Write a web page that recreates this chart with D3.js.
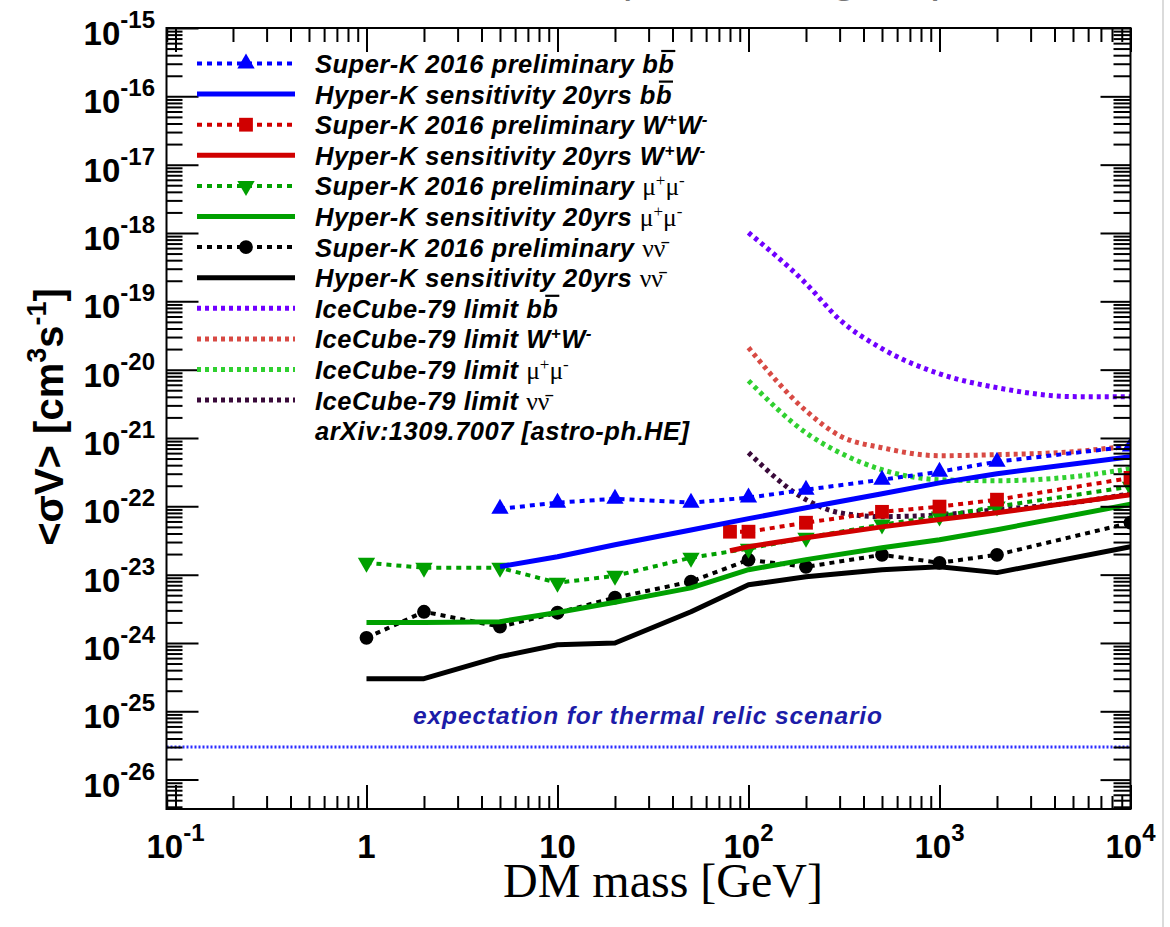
<!DOCTYPE html>
<html>
<head>
<meta charset="utf-8">
<script src="https://cdn.jsdelivr.net/npm/d3@7"></script>
<style>
  body { margin: 0; background: #fff; }
  svg { display: block; }
</style>
</head>
<body>
<svg id="chart" width="1170" height="927"></svg>
<script>
// ---- data (DM mass in GeV, <sigma v> in cm^3 s^-1) ----
var skBBMass = [5, 10, 20, 50, 100, 200, 500, 1000, 2000, 10000];
var skBB     = [9.2e-23, 1.13e-22, 1.29e-22, 1.13e-22, 1.34e-22, 1.75e-22, 2.45e-22, 3.2e-22, 4.5e-22, 7.5e-22];
var hkBBMass = [5, 10, 20, 50, 100, 200, 500, 1000, 2000, 10000];
var hkBB     = [1.31e-23, 1.83e-23, 2.74e-23, 4.5e-23, 6.6e-23, 9.5e-23, 1.53e-22, 2.2e-22, 3.0e-22, 5.3e-22];

var skWWMass = [80, 100, 200, 500, 1000, 2000, 10000];
var skWW     = [4.25e-23, 4.25e-23, 5.75e-23, 8.3e-23, 9.9e-23, 1.25e-22, 2.6e-22];
var hkWWMass = [80, 100, 200, 500, 1000, 2000, 10000];
var hkWW     = [2.24e-23, 2.56e-23, 3.47e-23, 5.0e-23, 6.4e-23, 8.05e-23, 1.48e-22];

var skMMMass = [1, 2, 5, 10, 20, 50, 100, 200, 500, 1000, 2000, 10000];
var skMM     = [1.49e-23, 1.26e-23, 1.26e-23, 7.6e-24, 9.6e-24, 1.77e-23, 2.4e-23, 3.47e-23, 5.4e-23, 7.1e-23, 9.9e-23, 1.94e-22];
var hkMMMass = [1, 2, 5, 10, 20, 50, 100, 200, 500, 1000, 2000, 10000];
var hkMM     = [2.0e-24, 2.0e-24, 2.05e-24, 2.8e-24, 3.95e-24, 6.4e-24, 1.18e-23, 1.66e-23, 2.48e-23, 3.24e-23, 4.55e-23, 1.07e-22];

var skNNMass = [1, 2, 5, 10, 20, 50, 100, 200, 500, 1000, 2000, 10000];
var skNN     = [1.19e-24, 2.86e-24, 1.73e-24, 2.77e-24, 4.6e-24, 7.9e-24, 1.65e-23, 1.3e-23, 1.95e-23, 1.49e-23, 1.95e-23, 5.75e-23];
var hkNNMass = [1, 2, 5, 10, 20, 50, 100, 200, 500, 1000, 2000, 10000];
var hkNN     = [3.0e-25, 3.0e-25, 6.3e-25, 9.4e-25, 1.0e-24, 2.86e-24, 7.1e-24, 9.3e-24, 1.18e-23, 1.3e-23, 1.07e-23, 2.56e-23];

// IceCube-79 limits (arXiv:1309.7007)
var icMass = [100, 200, 300, 500, 1000, 2000, 5000, 10000];
var icBB   = [1.01e-18, 1.82e-19, 5.4e-20, 2.03e-20, 8.7e-21, 5.45e-21, 4.03e-21, 4.0e-21];
var icWW   = [2.1e-20, 2.5e-21, 1.08e-21, 7.2e-22, 5.5e-22, 5.7e-22, 6.3e-22, 7.7e-22];
var icMM   = [6.9e-21, 1.19e-21, 6.1e-22, 3.43e-22, 2.45e-22, 2.37e-22, 2.71e-22, 3.55e-22];
var icNN   = [6.1e-22, 1.25e-22, 8.05e-23, 7.05e-23, 7.5e-23, 8.9e-23, 1.13e-22, 1.53e-22];

var thermalValue = 3e-26;

var xTickValues = [0.1, 1, 10, 100, 1000, 10000];
var xTickExp    = ["-1", "", "", "2", "3", "4"];
var xTickBase   = ["10", "1", "10", "10", "10", "10"];
var yTickExp    = [-15, -16, -17, -18, -19, -20, -21, -22, -23, -24, -25, -26];

var legendPrefix = ["Super-K 2016 preliminary ", "Hyper-K sensitivity 20yrs ",
                    "Super-K 2016 preliminary ", "Hyper-K sensitivity 20yrs ",
                    "Super-K 2016 preliminary ", "Hyper-K sensitivity 20yrs ",
                    "Super-K 2016 preliminary ", "Hyper-K sensitivity 20yrs ",
                    "IceCube-79 limit ", "IceCube-79 limit ", "IceCube-79 limit ", "IceCube-79 limit "];
var legendParticle = ["bb", "bb", "ww", "ww", "mm", "mm", "nn", "nn", "bb", "ww", "mm", "nn"];

// ---- layout ----
var plotLeft = 166.5, plotRight = 1130.5, plotTop = 28, plotBottom = 809;
var svg = d3.select("#chart");

var x = d3.scaleLog().domain([Math.pow(10, -1.047), 1e4]).range([plotLeft, plotRight]);
var y = d3.scaleLog().domain([Math.pow(10, -26.43), 1e-15]).range([plotBottom, plotTop]);

var sans = "'Liberation Sans', Arial, Helvetica, sans-serif";
var serif = "'Liberation Serif', 'Times New Roman', serif";

// series styles
var series = [
  { mass: icMass, vals: icBB, color: "#7000ff", width: 5, dash: "4,4", curve: true },
  { mass: icMass, vals: icWW, color: "#d84a44", width: 5, dash: "4,4", curve: true },
  { mass: icMass, vals: icMM, color: "#30d030", width: 5, dash: "4,4", curve: true },
  { mass: icMass, vals: icNN, color: "#3a0a3a", width: 5, dash: "4,4", curve: true },
  { mass: hkNNMass, vals: hkNN, color: "#000000", width: 5, dash: null },
  { mass: skNNMass, vals: skNN, color: "#000000", width: 4, dash: "5,5", marker: "circle" },
  { mass: hkMMMass, vals: hkMM, color: "#00a000", width: 5, dash: null },
  { mass: skMMMass, vals: skMM, color: "#00a000", width: 4, dash: "5,5", marker: "down" },
  { mass: hkWWMass, vals: hkWW, color: "#d00000", width: 5, dash: null },
  { mass: skWWMass, vals: skWW, color: "#d00000", width: 4, dash: "5,5", marker: "square" },
  { mass: hkBBMass, vals: hkBB, color: "#0000ff", width: 5, dash: null },
  { mass: skBBMass, vals: skBB, color: "#0000ff", width: 4, dash: "5,5", marker: "up" }
];

// legend order -> series index
var legendSeries = [11, 10, 9, 8, 7, 6, 5, 4, 0, 1, 2, 3];

function markerPath(kind) {
  if (kind === "up" || kind === "down") return d3.symbol(d3.symbolTriangle, 130)();
  if (kind === "square") return d3.symbol(d3.symbolSquare, 190)();
  return d3.symbol(d3.symbolCircle, 150)();
}

// ---- clip ----
svg.append("defs").append("clipPath").attr("id", "plotclip")
  .append("rect").attr("x", plotLeft).attr("y", plotTop)
  .attr("width", plotRight - plotLeft).attr("height", plotBottom - plotTop);

var plot = svg.append("g").attr("clip-path", "url(#plotclip)");

// thermal relic line
plot.append("line")
  .attr("x1", plotLeft).attr("x2", plotRight)
  .attr("y1", y(thermalValue)).attr("y2", y(thermalValue))
  .attr("stroke", "#2a2aff").attr("stroke-width", 3).attr("stroke-dasharray", "2,2");

series.forEach(function (s) {
  var pts = s.mass.map(function (m, i) { return [x(m), y(s.vals[i])]; });
  var line = d3.line().curve(s.curve ? d3.curveMonotoneX : d3.curveLinear);
  plot.append("path")
    .attr("d", line(pts))
    .attr("fill", "none")
    .attr("stroke", s.color)
    .attr("stroke-width", s.width)
    .attr("stroke-dasharray", s.dash)
    .attr("stroke-linejoin", "round");
  if (s.marker) {
    plot.selectAll(null).data(pts).join("path")
      .attr("d", markerPath(s.marker))
      .attr("transform", function (p) {
        return "translate(" + p[0] + "," + p[1] + ")" + (s.marker === "down" ? " rotate(180)" : "");
      })
      .attr("fill", s.color);
  }
});

// ---- axes (ROOT style: ticks on all four sides, pointing inward) ----
function logMinor(lo, hi) {
  var out = [];
  for (var e = Math.floor(Math.log10(lo)); e <= Math.ceil(Math.log10(hi)); e++) {
    for (var k = 2; k <= 9; k++) {
      var v = k * Math.pow(10, e);
      if (v > lo && v < hi) out.push(v);
    }
  }
  return out;
}
var yMajor = yTickExp.map(function (e) { return Math.pow(10, e); });
var yMinor = logMinor(y.domain()[0], y.domain()[1]);
var xMinor = logMinor(x.domain()[0], x.domain()[1]);

function tickGroup(axis, tx, ty) {
  var g = svg.append("g").attr("transform", "translate(" + tx + "," + ty + ")").call(axis);
  g.select(".domain").remove();
  g.selectAll("line").attr("stroke", "#000").attr("stroke-width", 2);
  g.selectAll("text").remove();
}
tickGroup(d3.axisLeft(y).tickValues(yMajor).tickSize(-32).tickFormat(""), plotLeft, 0);
tickGroup(d3.axisLeft(y).tickValues(yMinor).tickSize(-16).tickFormat(""), plotLeft, 0);
tickGroup(d3.axisRight(y).tickValues(yMajor).tickSize(-30).tickFormat(""), plotRight, 0);
tickGroup(d3.axisRight(y).tickValues(yMinor).tickSize(-17).tickFormat(""), plotRight, 0);
tickGroup(d3.axisBottom(x).tickValues(xTickValues).tickSize(-24).tickFormat(""), 0, plotBottom);
tickGroup(d3.axisBottom(x).tickValues(xMinor).tickSize(-13).tickFormat(""), 0, plotBottom);
tickGroup(d3.axisTop(x).tickValues(xTickValues).tickSize(-24).tickFormat(""), 0, plotTop);
tickGroup(d3.axisTop(x).tickValues(xMinor).tickSize(-14).tickFormat(""), 0, plotTop);

svg.append("rect")
  .attr("x", plotLeft).attr("y", plotTop)
  .attr("width", plotRight - plotLeft).attr("height", plotBottom - plotTop)
  .attr("fill", "none").attr("stroke", "#000").attr("stroke-width", 2);

// y tick labels
yTickExp.forEach(function (e) {
  var t = svg.append("text")
    .attr("x", 155).attr("y", y(Math.pow(10, e)) + 17)
    .attr("text-anchor", "end")
    .attr("font-family", sans).attr("font-weight", "bold").attr("font-size", 33);
  t.append("tspan").text("10");
  t.append("tspan").attr("dy", -17).attr("font-size", 24).text(String(e));
});

// x tick labels
xTickValues.forEach(function (v, i) {
  var t = svg.append("text")
    .attr("x", x(v)).attr("y", 858)
    .attr("text-anchor", "middle")
    .attr("font-family", sans).attr("font-weight", "bold").attr("font-size", 33);
  t.append("tspan").text(xTickBase[i]);
  if (xTickExp[i] !== "") t.append("tspan").attr("dy", -17).attr("font-size", 24).text(xTickExp[i]);
});

// axis titles
var yt = svg.append("text")
  .attr("transform", "translate(63,417) rotate(-90)")
  .attr("text-anchor", "middle")
  .attr("font-family", sans).attr("font-weight", "bold").attr("font-size", 40);
yt.append("tspan").text("<σV> [cm");
yt.append("tspan").attr("dy", -17).attr("font-size", 27).text("3");
yt.append("tspan").attr("dy", 17).text("s");
yt.append("tspan").attr("dy", -17).attr("font-size", 27).text("-1");
yt.append("tspan").attr("dy", 17).text("]");

svg.append("text")
  .attr("x", 663).attr("y", 897)
  .attr("text-anchor", "middle")
  .attr("font-family", serif).attr("font-size", 48)
  .text("DM mass [GeV]");

svg.append("text")
  .attr("x", 648).attr("y", 724)
  .attr("text-anchor", "middle")
  .attr("font-family", sans).attr("font-weight", "bold").attr("font-style", "italic")
  .attr("font-size", 24.5).attr("letter-spacing", 0.9).attr("fill", "#1c1ca8")
  .text("expectation for thermal relic scenario");

// ---- legend ----
function serifSpan(t, txt) {
  return t.append("tspan").attr("font-family", serif).attr("font-weight", "normal")
    .attr("font-style", "normal").attr("letter-spacing", 0).text(txt);
}
function addParticle(t, key) {
  if (key === "bb") {
    t.append("tspan").text("bb");
  } else if (key === "ww") {
    t.append("tspan").text("W");
    t.append("tspan").attr("dy", -9).attr("font-size", 17).text("+");
    t.append("tspan").attr("dy", 9).text("W");
    t.append("tspan").attr("dy", -9).attr("font-size", 17).text("-");
  } else if (key === "mm") {
    serifSpan(t, "μ");
    serifSpan(t, "+").attr("dy", -9).attr("font-size", 17);
    serifSpan(t, "μ").attr("dy", 9);
    serifSpan(t, "-").attr("dy", -9).attr("font-size", 17);
  } else {
    serifSpan(t, "νν̄");
  }
}

var legX1 = 197, legX2 = 295, legTextX = 315, legY0 = 63.5, legDy = 30.6;
legendSeries.forEach(function (si, i) {
  var s = series[si];
  var yy = legY0 + i * legDy;
  svg.append("line")
    .attr("x1", legX1).attr("x2", legX2).attr("y1", yy).attr("y2", yy)
    .attr("stroke", s.color).attr("stroke-width", s.width)
    .attr("stroke-dasharray", s.dash);
  if (s.marker) {
    svg.append("path").attr("d", markerPath(s.marker))
      .attr("transform", "translate(246," + yy + ")" + (s.marker === "down" ? " rotate(180)" : ""))
      .attr("fill", s.color);
  }
  var t = svg.append("text")
    .attr("x", legTextX).attr("y", yy + 9.5)
    .attr("font-family", sans).attr("font-weight", "bold").attr("font-style", "italic")
    .attr("font-size", 25.5).attr("letter-spacing", 0.5).attr("fill", "#000");
  t.append("tspan").text(legendPrefix[i]);
  addParticle(t, legendParticle[i]);
  if (legendParticle[i] === "bb") {
    // bar over the anti-b
    var node = t.node();
    var n = node.getNumberOfChars();
    var x0 = node.getStartPositionOfChar(n - 1).x;
    var x1 = node.getEndPositionOfChar(n - 1).x;
    svg.append("line")
      .attr("x1", x0 + 3).attr("x2", x1 + 1)
      .attr("y1", yy - 12.5).attr("y2", yy - 12.5)
      .attr("stroke", "#000").attr("stroke-width", 2.2);
  }
});
svg.append("text")
  .attr("x", legTextX).attr("y", legY0 + 12 * legDy + 9.5)
  .attr("font-family", sans).attr("font-weight", "bold").attr("font-style", "italic")
  .attr("font-size", 25.5).attr("letter-spacing", 0.5)
  .text("arXiv:1309.7007 [astro-ph.HE]");

// ---- page furniture around the cropped figure ----
svg.append("line").attr("x1", 1163).attr("x2", 1163).attr("y1", 0).attr("y2", 927)
  .attr("stroke", "#cfcfcf").attr("stroke-width", 1.5);
[["y", 620], ["g", 833], ["p", 930], ["(", 1010], [")", 1125]].forEach(function (c) {
  svg.append("text").attr("x", c[1]).attr("y", -7)
    .attr("font-family", "Lato, sans-serif").attr("font-size", 44).attr("fill", "#777")
    .text(c[0]);
});
</script>
</body>
</html>
